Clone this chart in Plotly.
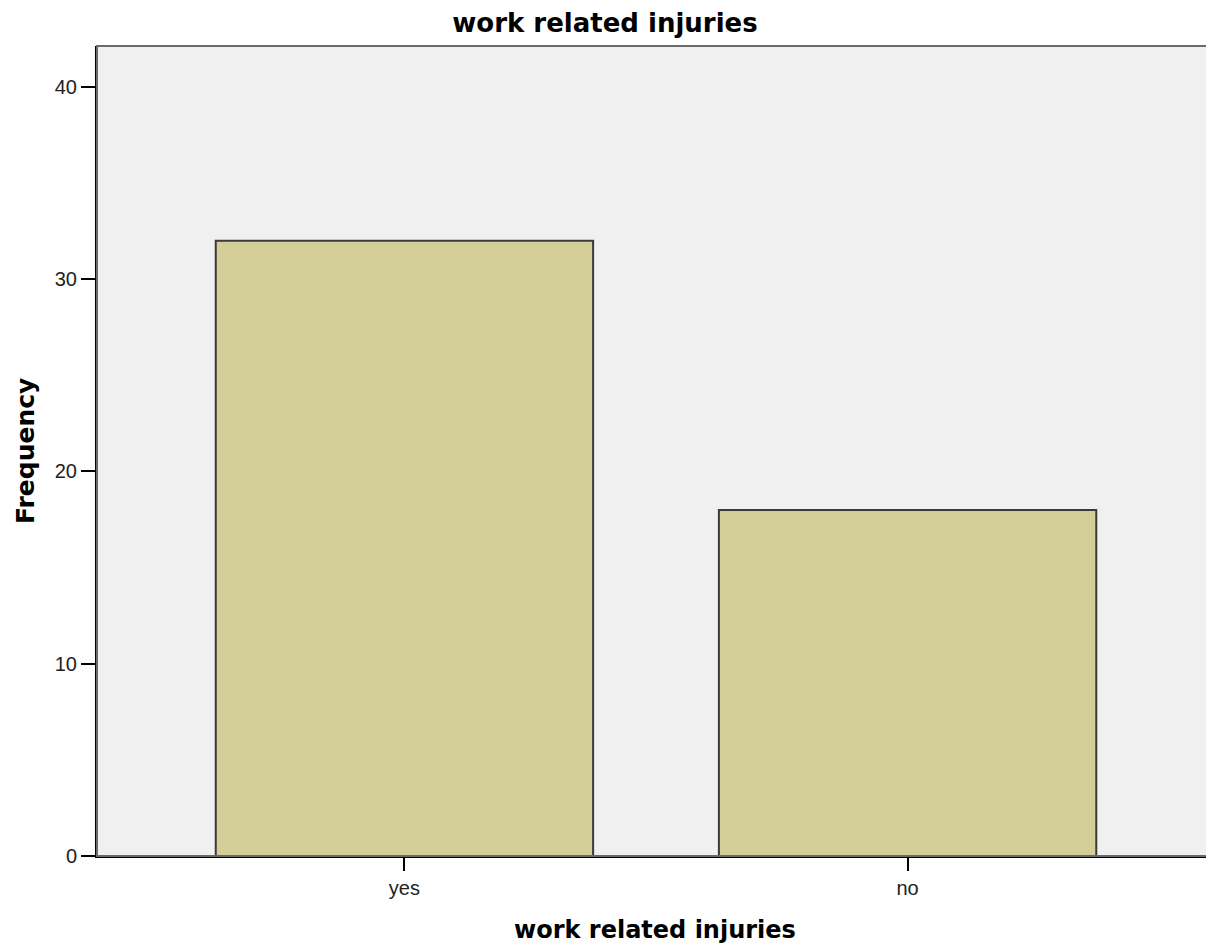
import plotly.graph_objects as go

categories = ["yes", "no"]
frequency = [32, 18]
y_ticks = [0, 10, 20, 30, 40]

# page has an 8px body margin, so figure coordinates = page coordinates - 8
W, H = 1206, 941

fig = go.Figure()
fig.add_trace(go.Bar(
    x=categories, y=frequency, width=0.75,
    marker=dict(color="#D3CE97", line=dict(color="#3a3a3a", width=2)),
))

fig.update_layout(
    width=W, height=H,
    margin=dict(l=89, r=2, t=38, b=93),
    paper_bgcolor="white", plot_bgcolor="#F0F0F0",
    showlegend=False,
    title=dict(text="<b>work related injuries</b>", x=(605 - 8) / W, xanchor="center",
               y=1 - 15 / H, yanchor="middle", yref="container", xref="container",
               font=dict(family="DejaVu Sans", size=26, color="black")),
    shapes=[dict(type="rect", xref="paper", yref="paper", x0=0, y0=0, x1=1, y1=1,
                 line=dict(color="#6a6a6a", width=2), layer="above")],
    annotations=[
        dict(text="<b>work related injuries</b>", xref="paper", yref="paper",
             x=0.5, y=0, yshift=-74, xanchor="center", yanchor="middle",
             showarrow=False, font=dict(family="DejaVu Sans", size=24, color="black")),
        dict(text="<b>Frequency</b>", xref="paper", yref="paper",
             x=0, y=0.5, xshift=-72, xanchor="center", yanchor="middle",
             textangle=-90, showarrow=False,
             font=dict(family="DejaVu Sans", size=25, color="black")),
    ],
)
fig.update_xaxes(
    type="category", range=[-0.611, 1.605],
    showline=True, linecolor="black", linewidth=2,
    ticks="outside", ticklen=13, tickwidth=2, tickcolor="black",
    showgrid=False, zeroline=False,
    tickfont=dict(family="Liberation Sans", size=20, color="#222"),
)
fig.update_yaxes(
    range=[0, 42.13], tickvals=y_ticks,
    showline=True, linecolor="black", linewidth=2,
    ticks="outside", ticklen=14, tickwidth=2, tickcolor="black",
    showgrid=False, zeroline=False,
    tickfont=dict(family="Liberation Sans", size=20, color="#222"),
)

fig.write_html("out.html")
